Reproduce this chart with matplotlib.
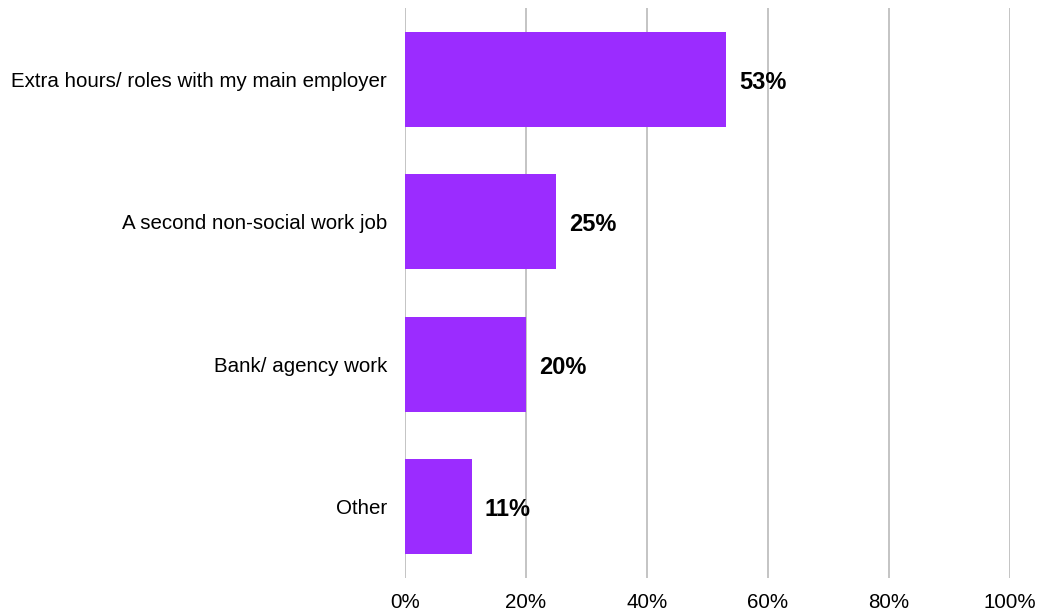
import matplotlib.pyplot as plt

plt.rcParams['font.family'] = ['Liberation Sans', 'DejaVu Sans']

# Survey answers, top to bottom
categories = ['Extra hours/ roles with my main employer',
              'A second non-social work job',
              'Bank/ agency work',
              'Other']
values = [53, 25, 20, 11]
ticks = [0, 20, 40, 60, 80, 100]

fig = plt.figure(figsize=(10.51, 6.15), dpi=100)
ax = fig.add_axes([0.3853, 0.0602, 0.5757, 0.9268])

pos = list(range(len(categories)))
ax.barh(pos, values, height=0.667, color='#9B2CFF', zorder=3)

# value labels just past the bar ends
for p, v in zip(pos, values):
    ax.text(v + 2.2, p + 0.02, f'{v}%', va='center', ha='left', fontsize=17,
            fontweight='bold', color='black')

ax.set_xlim(0, 100)
ax.set_ylim(len(categories) - 0.5, -0.5)
ax.set_yticks(pos)
ax.set_yticklabels(categories, fontsize=14.8)
ax.set_xticks(ticks)
ax.set_xticklabels([f'{t}%' for t in ticks], fontsize=14.8)
ax.tick_params(axis='both', length=0)
ax.tick_params(axis='y', pad=13)
ax.tick_params(axis='x', pad=11)

ax.grid(axis='x', color='#BFBFBF', linewidth=1.3, zorder=0)
for s in ax.spines.values():
    s.set_visible(False)

fig.savefig('out.png', dpi=100)
